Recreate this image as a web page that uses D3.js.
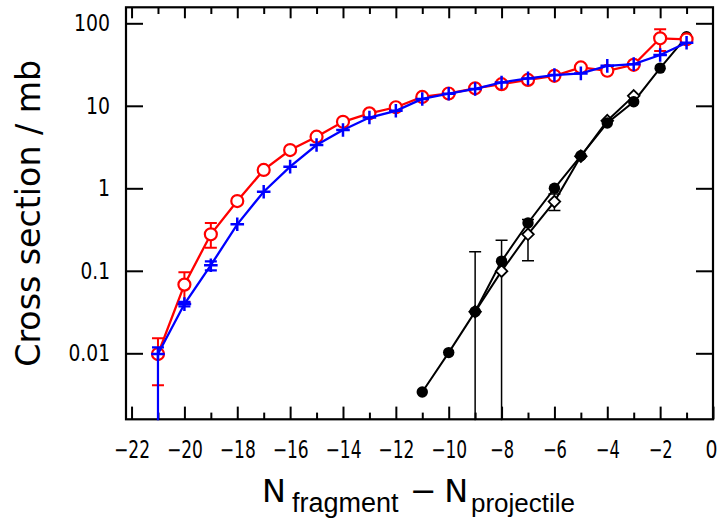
<!DOCTYPE html>
<html>
<head>
<meta charset="utf-8">
<script src="https://cdn.jsdelivr.net/npm/d3@7"></script>
<style>
  html, body { margin: 0; padding: 0; background: #fff; }
  svg { display: block; }
  text { font-family: "DejaVu Sans", "Liberation Sans", sans-serif; fill: #000; }
  tspan.sub { font-family: "Liberation Sans", "DejaVu Sans", sans-serif; }
</style>
</head>
<body>
<svg id="chart" width="720" height="521"></svg>
<script>
// Neutron removal: N_fragment - N_projectile
const nAll = [-21, -20, -19, -18, -17, -16, -15, -14, -13, -12, -11, -10, -9, -8, -7, -6, -5, -4, -3, -2, -1];

// Red open circles (measured)
const redVals  = [0.0098, 0.068, 0.277, 0.70, 1.67, 2.91, 4.22, 6.4, 8.1, 9.6, 12.8, 14.1, 16.3, 18.3, 20.6, 23.1, 29.2, 26.6, 31.4, 65.8, 64];
const redErrLo = [0.0041, 0.042, 0.19, null, null, null, null, null, null, null, null, null, null, null, null, null, null, null, null, 46, null];
const redErrHi = [0.0152, 0.096, 0.38, null, null, null, null, null, null, null, null, null, null, null, null, null, null, null, null, 84.5, null];

// Blue crosses (calculation)
const blueVals  = [0.0098, 0.0395, 0.117, 0.366, 0.91, 1.83, 3.35, 5.1, 7.2, 8.7, 12.1, 14.0, 16.0, 19.2, 21.5, 23.6, 24.7, 30.5, 32.0, 41.3, 58];
const blueErrLo = [0.0005, 0.037, 0.101, null, null, null, null, null, null, null, null, null, null, null, null, null, null, null, null, null, null];
const blueErrHi = [0.0118, 0.042, 0.13, null, null, null, null, null, null, null, null, null, null, null, null, null, null, null, null, null, null];

// Black filled circles
const nFilled    = [-11, -10, -9, -8, -7, -6, -5, -4, -3, -2, -1];
const filledVals = [0.0034, 0.0102, 0.032, 0.131, 0.38, 1.0, 2.48, 6.2, 11.2, 28.6, 68.8];

// Black open diamonds
const nDiamond    = [-9, -8, -7, -6, -5, -4, -3];
const diamondVals = [0.032, 0.099, 0.277, 0.69, 2.45, 6.6, 13.2];
const diamondErrLo = [0.0005, 0.0005, 0.132, 0.54, null, null, null];
const diamondErrHi = [0.17, 0.235, 0.42, 0.85, null, null, null];

// Axis ticks
const xMajorTicks = [-22, -20, -18, -16, -14, -12, -10, -8, -6, -4, -2, 0];
const xMinorTicks = [-21, -19, -17, -15, -13, -11, -9, -7, -5, -3, -1];
const yTicks      = [0.01, 0.1, 1, 10, 100];
const yTickLabels = ["0.01", "0.1", "1", "10", "100"];

const svg = d3.select("#chart");
const L = 126, R = 713, T = 7.3, B = 419.3;

const x = d3.scaleLinear().domain([-22.21, 0]).range([L, R]);
const y = d3.scaleLog().domain([0.001585, 156.3]).range([B, T]);

// Approximate advance widths for the narrow tick-label face
function labelWidth(s) {
  let w = 0;
  for (const c of s) w += (c === ".") ? 5.5 : 12.0;
  return w;
}
function fmtX(v) { return v < 0 ? "\u2212" + Math.abs(v) : String(v); }

function styleAxis(g) {
  g.select(".domain").remove();
  g.selectAll(".tick line").attr("stroke", "#000").attr("stroke-width", 2);
}

// Bottom axis
const gB = svg.append("g").attr("transform", `translate(0,${B})`)
  .call(d3.axisBottom(x).tickValues(xMajorTicks).tickSize(-12.7).tickPadding(22).tickFormat(fmtX));
styleAxis(gB);
gB.selectAll(".tick text")
  .attr("font-size", 24)
  .attr("x", d => d === 0 ? -2 : 0)
  .attr("textLength", d => labelWidth(fmtX(d)))
  .attr("lengthAdjust", "spacingAndGlyphs");
styleAxis(svg.append("g").attr("transform", `translate(0,${B})`)
  .call(d3.axisBottom(x).tickValues(xMinorTicks).tickSize(-6.7).tickFormat("")));

// Top axis
styleAxis(svg.append("g").attr("transform", `translate(0,${T})`)
  .call(d3.axisTop(x).tickValues(xMajorTicks.filter(d => d < 0)).tickSize(-11).tickFormat("")));
styleAxis(svg.append("g").attr("transform", `translate(0,${T})`)
  .call(d3.axisTop(x).tickValues(xMinorTicks).tickSize(-6.7).tickFormat("")));

// Left axis
const gL = svg.append("g").attr("transform", `translate(${L},0)`)
  .call(d3.axisLeft(y).tickValues(yTicks).tickSize(-17).tickPadding(16)
    .tickFormat((d, i) => yTickLabels[i]));
styleAxis(gL);
gL.selectAll(".tick text")
  .attr("font-size", 23)
  .attr("textLength", (d, i) => labelWidth(yTickLabels[i]))
  .attr("lengthAdjust", "spacingAndGlyphs");

// Right axis
styleAxis(svg.append("g").attr("transform", `translate(${R},0)`)
  .call(d3.axisRight(y).tickValues(yTicks).tickSize(-17).tickFormat("")));

// Frame
svg.append("rect")
  .attr("x", L).attr("y", T).attr("width", R - L).attr("height", B - T)
  .attr("fill", "none").attr("stroke", "#000").attr("stroke-width", 2.2);

// Plot area clip
svg.append("clipPath").attr("id", "plotclip")
  .append("rect").attr("x", L - 2).attr("y", T - 2).attr("width", R - L + 4).attr("height", B - T + 3);
const plot = svg.append("g").attr("clip-path", "url(#plotclip)");

const line = d3.line().x(d => x(d[0])).y(d => y(d[1]));
const zip = (xs, ys) => xs.map((v, i) => [v, ys[i]]);

function errorBars(g, xs, lo, hi, color, width, cap) {
  xs.forEach((n, i) => {
    if (lo[i] == null && hi[i] == null) return;
    const cx = x(n);
    const y1 = y(lo[i]), y2 = y(hi[i]);
    g.append("line").attr("x1", cx).attr("x2", cx).attr("y1", y1).attr("y2", y2)
      .attr("stroke", color).attr("stroke-width", width);
    [y1, y2].forEach(yy => {
      if (yy > B || yy < T) return;
      g.append("line").attr("x1", cx - cap).attr("x2", cx + cap).attr("y1", yy).attr("y2", yy)
        .attr("stroke", color).attr("stroke-width", width);
    });
  });
}

// Black series: lines, error bars, diamonds, filled circles
plot.append("path").datum(zip(nDiamond, diamondVals)).attr("d", line)
  .attr("fill", "none").attr("stroke", "#000").attr("stroke-width", 2);
plot.append("path").datum(zip(nFilled, filledVals)).attr("d", line)
  .attr("fill", "none").attr("stroke", "#000").attr("stroke-width", 2);
errorBars(plot, nDiamond, diamondErrLo, diamondErrHi, "#000", 1.5, 6);
plot.selectAll("path.diamond").data(zip(nDiamond, diamondVals)).join("path")
  .attr("class", "diamond")
  .attr("d", d => {
    const cx = x(d[0]), cy = y(d[1]), s = 5.8;
    return `M${cx},${cy - s}L${cx + s},${cy}L${cx},${cy + s}L${cx - s},${cy}Z`;
  })
  .attr("fill", "#fff").attr("stroke", "#000").attr("stroke-width", 1.8);
plot.selectAll("circle.filled").data(zip(nFilled, filledVals)).join("circle")
  .attr("class", "filled")
  .attr("cx", d => x(d[0])).attr("cy", d => y(d[1])).attr("r", 5.7)
  .attr("fill", "#000");

// Red series
plot.append("path").datum(zip(nAll, redVals)).attr("d", line)
  .attr("fill", "none").attr("stroke", "#ff0000").attr("stroke-width", 2.3);
errorBars(plot, nAll, redErrLo, redErrHi, "#ff0000", 2, 6);
plot.selectAll("circle.red").data(zip(nAll, redVals)).join("circle")
  .attr("class", "red")
  .attr("cx", d => x(d[0])).attr("cy", d => y(d[1])).attr("r", 6)
  .attr("fill", "#fff").attr("stroke", "#ff0000").attr("stroke-width", 2.2);

// Blue series
plot.append("path").datum(zip(nAll, blueVals)).attr("d", line)
  .attr("fill", "none").attr("stroke", "#0000ff").attr("stroke-width", 2.3);
errorBars(plot, nAll, blueErrLo, blueErrHi, "#0000ff", 2.2, 6);
plot.selectAll("path.cross").data(zip(nAll, blueVals)).join("path")
  .attr("class", "cross")
  .attr("d", d => {
    const cx = x(d[0]), cy = y(d[1]), s = 6.8;
    return `M${cx - s},${cy}H${cx + s}M${cx},${cy - s}V${cy + s}`;
  })
  .attr("fill", "none").attr("stroke", "#0000ff").attr("stroke-width", 2.5);

// Y axis title
svg.append("text")
  .attr("transform", "translate(40,213.3) rotate(-90)")
  .attr("text-anchor", "middle")
  .attr("font-size", 34)
  .attr("textLength", 307)
  .attr("lengthAdjust", "spacingAndGlyphs")
  .text("Cross section / mb");

// X axis title: N_fragment − N_projectile, one text element with tspans
const xt = svg.append("text").attr("font-size", 32);
xt.append("tspan").attr("x", 262).attr("y", 501.7).text("N");
xt.append("tspan").attr("class", "sub").attr("x", 292).attr("y", 511.7).attr("font-size", 27).text("fragment");
xt.append("tspan").attr("x", 410).attr("y", 501.7).text("\u2212");
xt.append("tspan").attr("x", 444.3).attr("y", 501.7).text("N");
xt.append("tspan").attr("class", "sub").attr("x", 471).attr("y", 511.7).attr("font-size", 26).text("projectile");
</script>
</body>
</html>
